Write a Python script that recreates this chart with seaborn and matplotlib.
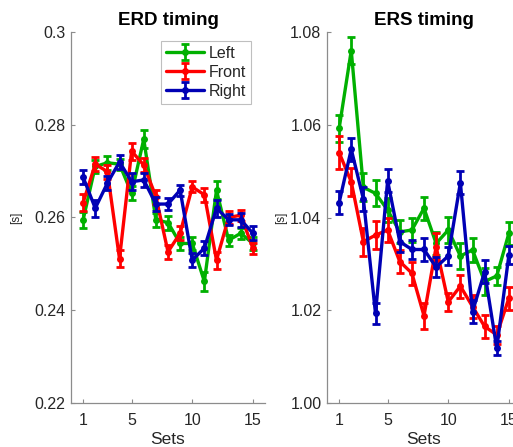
import numpy as np
import pandas as pd
import matplotlib
matplotlib.use("Agg")
import matplotlib.pyplot as plt
import seaborn as sns

sets = list(range(1, 16))
series_names = ["Left", "Front", "Right"]
series_colors = ["#00b000", "#ff0000", "#0000b4"]

erd_left = [0.2595, 0.2710, 0.2718, 0.2715, 0.2652, 0.2769, 0.2595, 0.2589,
            0.2544, 0.2544, 0.2462, 0.2659, 0.2551, 0.2566, 0.2544]
erd_front = [0.2632, 0.2715, 0.2699, 0.2511, 0.2743, 0.2713, 0.2645, 0.2526,
             0.2566, 0.2666, 0.2649, 0.2508, 0.2600, 0.2605, 0.2534]
erd_right = [0.2687, 0.2620, 0.2674, 0.2720, 0.2677, 0.2681, 0.2629, 0.2629,
             0.2659, 0.2508, 0.2534, 0.2620, 0.2595, 0.2595, 0.2566]
erd_left_err = [0.0017, 0.0015, 0.0015, 0.0012, 0.0015, 0.0020, 0.0015, 0.0015,
                0.0015, 0.0015, 0.0020, 0.0020, 0.0012, 0.0012, 0.0015]
erd_front_err = [0.0018, 0.0015, 0.0015, 0.0018, 0.0018, 0.0015, 0.0015, 0.0015,
                 0.0015, 0.0012, 0.0015, 0.0018, 0.0015, 0.0012, 0.0012]
erd_right_err = [0.0015, 0.0018, 0.0015, 0.0015, 0.0018, 0.0015, 0.0015, 0.0012,
                 0.0012, 0.0015, 0.0015, 0.0018, 0.0012, 0.0015, 0.0015]

ers_left = [1.0592, 1.0760, 1.0465, 1.0452, 1.0416, 1.0369, 1.0373, 1.0420,
            1.0344, 1.0373, 1.0317, 1.0330, 1.0262, 1.0274, 1.0366]
ers_front = [1.0540, 1.0477, 1.0348, 1.0362, 1.0373, 1.0305, 1.0280, 1.0188,
             1.0337, 1.0218, 1.0252, 1.0208, 1.0165, 1.0147, 1.0226]
ers_right = [1.0432, 1.0547, 1.0440, 1.0193, 1.0479, 1.0348, 1.0331, 1.0331,
             1.0293, 1.0317, 1.0475, 1.0197, 1.0283, 1.0118, 1.0319]
ers_left_err = [0.0030, 0.0030, 0.0030, 0.0028, 0.0025, 0.0025, 0.0025, 0.0025,
                0.0025, 0.0028, 0.0028, 0.0025, 0.0030, 0.0020, 0.0025]
ers_front_err = [0.0035, 0.0030, 0.0030, 0.0030, 0.0025, 0.0025, 0.0025, 0.0028,
                 0.0030, 0.0020, 0.0025, 0.0025, 0.0025, 0.0020, 0.0025]
ers_right_err = [0.0025, 0.0025, 0.0025, 0.0023, 0.0025, 0.0022, 0.0020, 0.0025,
                 0.0022, 0.0020, 0.0025, 0.0025, 0.0025, 0.0015, 0.0020]

erd_yticks = [0.22, 0.24, 0.26, 0.28, 0.30]
erd_yticklabels = ["0.22", "0.24", "0.26", "0.28", "0.3"]
ers_yticks = [1.00, 1.02, 1.04, 1.06, 1.08]
ers_yticklabels = ["1.00", "1.02", "1.04", "1.06", "1.08"]
xticks = [1, 5, 10, 15]

sns.set_theme(style="white")
plt.rcParams["font.family"] = ["Liberation Sans", "DejaVu Sans"]

fig = plt.figure(figsize=(5.13, 4.47), dpi=100)
ax1 = fig.add_axes([71 / 513, 1 - 403 / 447, 194 / 513, 371 / 447])
ax2 = fig.add_axes([327 / 513, 1 - 403 / 447, 194 / 513, 371 / 447])

spine_col = "#8c8c8c"
text_col = "#262626"


def draw(ax, vals, errs, title, yticks, yticklabels, ylim, labelpad, legend):
    handles = []
    for name, col, v, e in zip(series_names, series_colors, vals, errs):
        df = pd.DataFrame({"Sets": sets, "val": v})
        sns.lineplot(data=df, x="Sets", y="val", ax=ax, color=col, lw=2.4,
                     marker="o", markersize=5, markeredgewidth=0,
                     legend=False, zorder=3)
        line = ax.lines[-1]
        eb = ax.errorbar(sets, v, yerr=e, fmt="none", ecolor=col,
                         elinewidth=2.0, capsize=2.8, capthick=2.0, zorder=3)
        handles.append((line, eb))
    ax.set_xlim(0, 16)
    ax.set_ylim(*ylim)
    ax.set_xticks(xticks)
    ax.set_xticklabels([str(t) for t in xticks])
    ax.set_yticks(yticks)
    ax.set_yticklabels(yticklabels)
    for s in ["top", "right"]:
        ax.spines[s].set_visible(False)
    for s in ["left", "bottom"]:
        ax.spines[s].set_color(spine_col)
        ax.spines[s].set_linewidth(0.9)
    ax.tick_params(axis="both", direction="in", length=3, width=0.8,
                   color=spine_col, labelsize=11.5, labelcolor=text_col,
                   left=True, bottom=True, pad=4)
    ax.tick_params(axis="x", pad=7)
    ax.set_title(title, fontsize=13.5, fontweight="bold", color="black", pad=5)
    ax.set_xlabel("Sets", fontsize=12.5, color=text_col, labelpad=3)
    ax.set_ylabel("[s]", fontsize=8.5, color=text_col, labelpad=labelpad)
    if legend:
        leg = ax.legend(handles, series_names, loc="upper right",
                        bbox_to_anchor=(0.928, 0.975), fontsize=11.5,
                        frameon=True, fancybox=False, handlelength=2.4,
                        borderpad=0.3, labelspacing=0.25, handletextpad=0.3,
                        borderaxespad=0)
        leg.get_frame().set_edgecolor("#b0b0b0")
        leg.get_frame().set_linewidth(0.8)


draw(ax1, [erd_left, erd_front, erd_right],
     [erd_left_err, erd_front_err, erd_right_err],
     "ERD timing", erd_yticks, erd_yticklabels, (0.22, 0.30), 9, True)
draw(ax2, [ers_left, ers_front, ers_right],
     [ers_left_err, ers_front_err, ers_right_err],
     "ERS timing", ers_yticks, ers_yticklabels, (1.00, 1.08), 2, False)

fig.savefig("out.png", dpi=100)
